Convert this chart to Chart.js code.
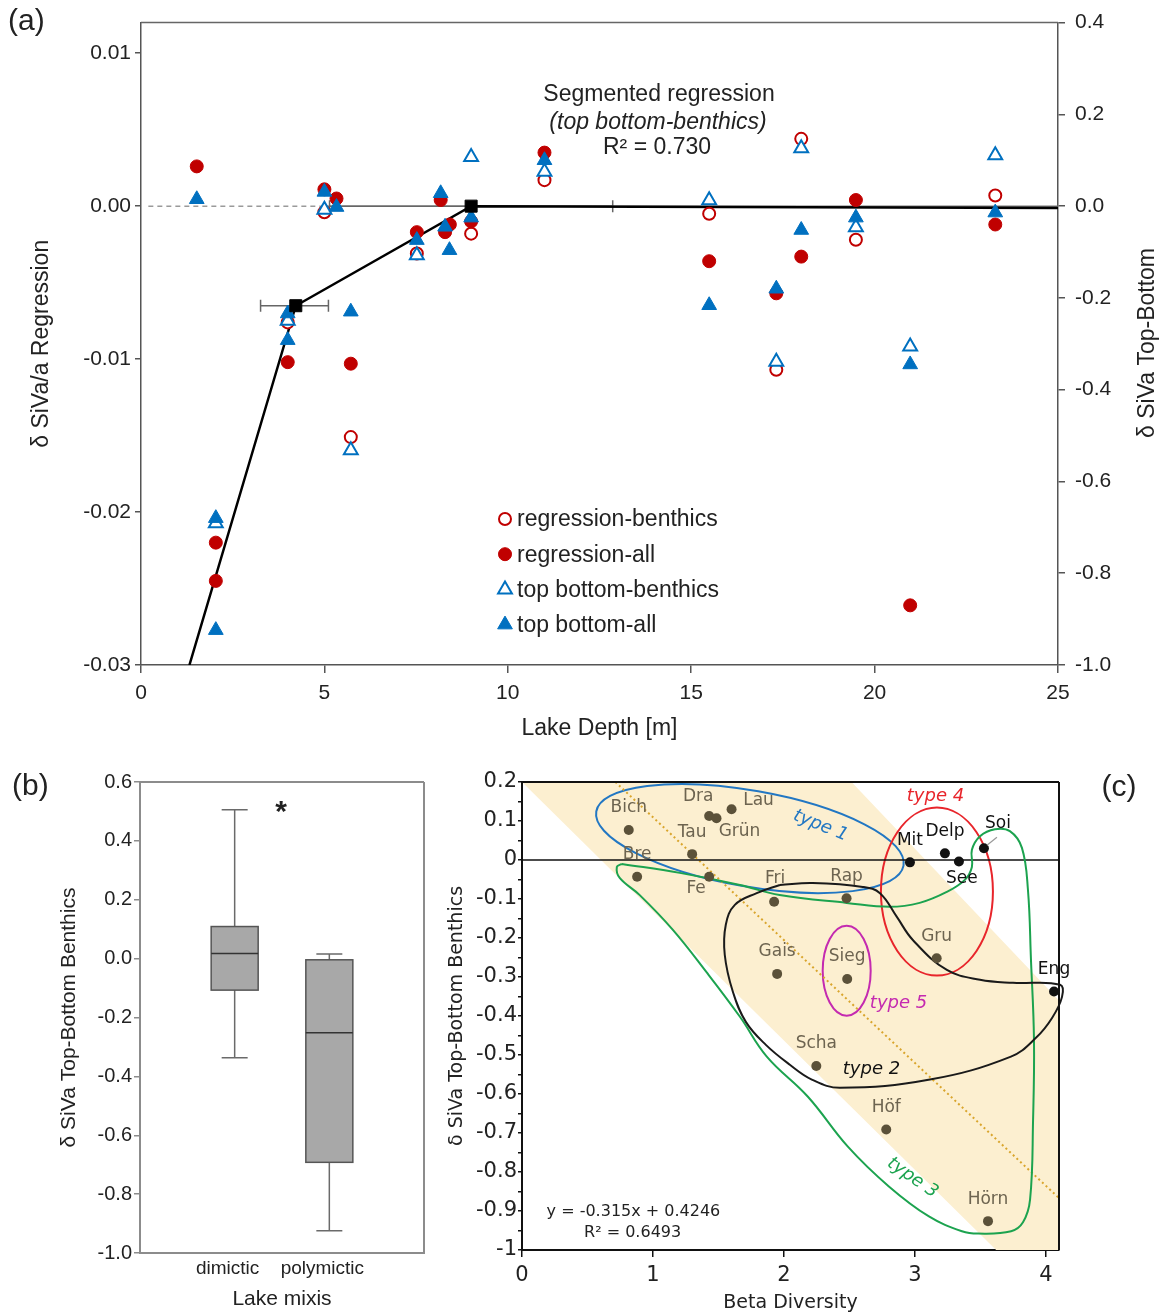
<!DOCTYPE html>
<html>
<head>
<meta charset="utf-8">
<title>Lake depth, mixis and beta diversity</title>
<script src="https://cdn.jsdelivr.net/npm/chart.js@4.4.1/dist/chart.umd.min.js"></script>
<style>
  html, body { margin: 0; padding: 0; background: #fff; }
  #figure { position: relative; width: 1164px; height: 1316px; overflow: hidden; }
  #figure canvas { position: absolute; }
</style>
</head>
<body>
<div id="figure">
  <canvas id="depthChart" width="1164" height="745" style="left:0;top:0;width:1164px;height:745px"></canvas>
  <canvas id="mixisChart" width="440" height="571" style="left:0;top:745px;width:440px;height:571px"></canvas>
  <canvas id="betaChart" width="724" height="571" style="left:440px;top:745px;width:724px;height:571px"></canvas>
</div>
<script>
// ---------- (a) delta SiVa against lake depth ----------
const regressionTicks = [-0.03, -0.02, -0.01, 0, 0.01];

const regBenthicsDepth = [4.0, 5.0, 5.72, 7.52, 9.0, 11.0, 15.49, 17.32, 18.0, 19.49, 23.29];
const regBenthicsValue = [-0.0076, -0.0004, -0.0151, -0.0031, -0.0018, 0.0017, -0.0005, -0.0107, 0.0044, -0.0022, 0.0007];

const regAllDepth = [1.52, 2.04, 2.04, 4.0, 5.0, 5.33, 5.72, 7.52, 8.17, 8.29, 8.42, 9.0, 11.0, 15.49, 17.32, 18.0, 19.49, 20.97, 23.29];
const regAllValue = [0.0026, -0.0220, -0.0245, -0.0102, 0.0011, 0.0005, -0.0103, -0.0017, 0.0004, -0.0017, -0.0012, -0.0010, 0.0035, -0.0036, -0.0057, -0.0033, 0.0004, -0.0261, -0.0012];

const tbBenthicsDepth = [2.04, 4.0, 5.0, 5.72, 7.52, 9.0, 11.0, 15.49, 17.32, 18.0, 19.49, 20.97, 23.29];
const tbBenthicsValue = [-0.691, -0.25, -0.008, -0.532, -0.107, 0.107, 0.075, 0.013, -0.339, 0.126, -0.046, -0.306, 0.111];

const tbAllDepth = [1.52, 2.04, 2.04, 4.0, 4.0, 5.0, 5.33, 5.72, 7.52, 8.17, 8.29, 8.41, 9.0, 11.0, 15.49, 17.32, 18.0, 19.49, 20.97, 23.29];
const tbAllValue = [0.015, -0.680, -0.924, -0.234, -0.292, 0.031, -0.002, -0.230, -0.074, 0.028, -0.045, -0.096, -0.025, 0.100, -0.216, -0.180, -0.052, -0.025, -0.345, -0.014];

// segmented regression on top bottom-benthics
const segDepth = [1.32, 4.22, 9.0, 25];
const segValue = [-1.0, -0.217, 0, -0.004];
const breakDepth = [4.22, 9.0];
const breakValue = [-0.217, 0];
const breakLow = [3.26, 5.14];
const breakHigh = [5.11, 12.86];

// ---------- (b) lake mixis ----------
const mixisTypes = ['dimictic', 'polymictic'];
const boxMin = [-0.337, -0.924];
const boxQ1 = [-0.107, -0.692];
const boxMedian = [0.017, -0.252];
const boxQ3 = [0.109, -0.004];
const boxMax = [0.506, 0.016];

// ---------- (c) beta diversity ----------
const lakeNames = ['Bich', 'Dra', 'Grün', 'Lau', 'Tau', 'Bre', 'Fe', 'Fri', 'Gais', 'Rap', 'Mit', 'Delp', 'See', 'Soi', 'Gru', 'Sieg', 'Eng', 'Scha', 'Höf', 'Hörn'];
const betaDiversity = [0.815, 1.429, 1.485, 1.600, 1.299, 0.879, 1.429, 1.925, 1.948, 2.478, 2.962, 3.229, 3.336, 3.527, 3.166, 2.483, 4.062, 2.247, 2.781, 3.558];
const topBottomBenthics = [0.077, 0.113, 0.107, 0.130, 0.015, -0.043, -0.043, -0.107, -0.292, -0.098, -0.006, 0.017, -0.004, 0.030, -0.252, -0.305, -0.337, -0.528, -0.691, -0.926];
const fitSlope = -0.315;
const fitIntercept = 0.4246;
const betaTicks = [0, 1, 2, 3, 4];
const benthicTicks = [-1, -0.95, -0.9, -0.85, -0.8, -0.75, -0.7, -0.65, -0.6, -0.55, -0.5, -0.45, -0.4,
  -0.35, -0.3, -0.25, -0.2, -0.15, -0.1, -0.05, 0, 0.05, 0.1, 0.15, 0.2];

// prediction band
const bandX = [0, 2.516, 4.1, 4.1, 3.62];
const bandY = [0.2, 0.2, -0.36, -1, -1];

// outlines of lake types 2 and 3
const type2X = [1.969, 1.792, 1.625, 1.556, 1.548, 1.610, 1.709, 1.862, 2.045, 2.213, 2.427, 3.115, 3.733, 3.924, 4.047, 4.123, 4.108, 3.749, 3.497, 3.244, 2.984, 2.862, 2.733, 2.602, 2.220, 1.969];
const type2Y = [-0.064, -0.085, -0.115, -0.166, -0.243, -0.338, -0.415, -0.474, -0.525, -0.563, -0.584, -0.563, -0.504, -0.456, -0.405, -0.351, -0.320, -0.315, -0.307, -0.282, -0.205, -0.146, -0.085, -0.069, -0.059, -0.064];
const type3X = [0.762, 1.205, 1.664, 1.967, 2.479, 2.807, 3.036, 3.243, 3.381, 3.435, 3.435, 3.497, 3.611, 3.725, 3.817, 3.863, 3.886, 3.909, 3.902, 3.879, 3.825, 3.734, 3.482, 3.359, 3.107, 2.801, 2.488, 2.183, 1.869, 1.664, 1.412, 1.152, 0.899, 0.746, 0.724, 0.762];
const type3Y = [-0.010, -0.033, -0.064, -0.090, -0.110, -0.120, -0.110, -0.082, -0.051, -0.018, 0.026, 0.061, 0.079, 0.074, 0.031, -0.077, -0.256, -0.461, -0.666, -0.871, -0.929, -0.952, -0.958, -0.952, -0.914, -0.837, -0.735, -0.607, -0.504, -0.402, -0.289, -0.179, -0.090, -0.046, -0.018, -0.010];

// ---------- styling ----------
const FONT = '"Liberation Sans", Arial, sans-serif';
const CFONT = '"DejaVu Sans", sans-serif';
const RED = '#c00000';
const BLUE = '#0070c0';
const INK = '#222';

const darkLakes = ['Mit', 'Delp', 'See', 'Soi', 'Eng'];
const labelShift = {
  Dra: [-11, -19], 'Grün': [23, 13], Lau: [27, -9], Fe: [-13, 12], See: [3, 17], Soi: [14, -25], Fri: [1, -23]
};
const typeRings = [
  { cx: 1.740, cy: 0.055, rx: 156, ry: 48, rot: 10, color: '#2277c3' },
  { cx: 3.168, cy: -0.081, rx: 56, ry: 84, rot: 0, color: '#e8252b' },
  { cx: 2.479, cy: -0.284, rx: 24, ry: 45, rot: 0, color: '#c42ab0' }
];

const pts = (xs, ys) => xs.map((x, i) => ({ x, y: ys[i] }));
const fmt = (v, d) => (Math.abs(v) < 1e-9 ? 0 : v).toFixed(d);

function drawMarker(ctx, style, x, y, r) {
  ctx.beginPath();
  if (style === 'triangle') {
    for (let k = 0; k < 3; k++) {
      const a = k * 2 * Math.PI / 3;
      const px = x + Math.sin(a) * r, py = y - Math.cos(a) * r;
      k ? ctx.lineTo(px, py) : ctx.moveTo(px, py);
    }
    ctx.closePath();
  } else {
    ctx.arc(x, y, r, 0, Math.PI * 2);
  }
  ctx.fill();
  ctx.stroke();
}

// free text, in pixels or in data units
function notes(items) {
  return {
    id: 'notes',
    afterDraw(chart) {
      const ctx = chart.ctx;
      items.forEach(n => {
        let x = n.x, y = n.y;
        if (n.data) {
          x = chart.scales.x.getPixelForValue(n.x);
          y = chart.scales.y.getPixelForValue(n.y);
        }
        ctx.save();
        ctx.translate(x, y);
        if (n.rotate) ctx.rotate(n.rotate * Math.PI / 180);
        ctx.font = n.font;
        ctx.fillStyle = n.color || INK;
        ctx.textAlign = n.align || 'center';
        ctx.textBaseline = 'middle';
        ctx.fillText(n.text, 0, 0);
        ctx.restore();
      });
    }
  };
}

function frame(color, width, sides) {
  return {
    id: 'frame',
    afterDatasetsDraw(chart) {
      const { ctx, chartArea: a } = chart;
      ctx.save();
      ctx.strokeStyle = color;
      ctx.lineWidth = width;
      ctx.beginPath();
      if (sides.includes('top')) { ctx.moveTo(a.left, a.top); ctx.lineTo(a.right, a.top); }
      if (sides.includes('right')) { ctx.moveTo(a.right, a.top); ctx.lineTo(a.right, a.bottom); }
      ctx.stroke();
      ctx.restore();
    }
  };
}

const quiet = { legend: { display: false }, tooltip: { enabled: false } };

// ---------- chart (a) ----------
const depthLegend = {
  id: 'depthLegend',
  afterDraw(chart) {
    const ctx = chart.ctx;
    chart.data.datasets.slice(0, 4).forEach((ds, i) => {
      const y = 519 + i * 35.2;
      ctx.save();
      ctx.fillStyle = ds.pointBackgroundColor;
      ctx.strokeStyle = ds.pointBorderColor;
      ctx.lineWidth = ds.pointBorderWidth;
      drawMarker(ctx, ds.pointStyle, 505, y, ds.pointRadius);
      ctx.font = `23px ${FONT}`;
      ctx.fillStyle = INK;
      ctx.textAlign = 'left';
      ctx.textBaseline = 'middle';
      ctx.fillText(ds.label, 517, y + 1);
      ctx.restore();
    });
  }
};

const errorBarPts = breakDepth.flatMap((d, i) => [
  { x: breakLow[i], y: breakValue[i] }, { x: breakHigh[i], y: breakValue[i] }, { x: breakHigh[i], y: null }
]);
const capPts = breakDepth.flatMap((d, i) => [
  { x: breakLow[i], y: breakValue[i] }, { x: breakHigh[i], y: breakValue[i] }
]);

const axisTick = { family: FONT, size: 21 };
const axisTitle = { family: FONT, size: 23 };

new Chart(document.getElementById('depthChart'), {
  type: 'scatter',
  data: {
    datasets: [
      { label: 'regression-benthics', data: pts(regBenthicsDepth, regBenthicsValue), yAxisID: 'y',
        pointStyle: 'circle', pointRadius: 6, pointBorderWidth: 2, pointBorderColor: RED, pointBackgroundColor: '#fff', order: 4 },
      { label: 'regression-all', data: pts(regAllDepth, regAllValue), yAxisID: 'y',
        pointStyle: 'circle', pointRadius: 6.5, pointBorderWidth: 1, pointBorderColor: RED, pointBackgroundColor: RED, order: 3 },
      { label: 'top bottom-benthics', data: pts(tbBenthicsDepth, tbBenthicsValue), yAxisID: 'y1',
        pointStyle: 'triangle', pointRadius: 8, pointBorderWidth: 2, pointBorderColor: BLUE, pointBackgroundColor: '#fff', order: 2 },
      { label: 'top bottom-all', data: pts(tbAllDepth, tbAllValue), yAxisID: 'y1',
        pointStyle: 'triangle', pointRadius: 8.5, pointBorderWidth: 1, pointBorderColor: BLUE, pointBackgroundColor: BLUE, order: 1 },
      // zero reference
      { data: [{ x: 0.2, y: 0 }, { x: 4.9, y: 0 }], yAxisID: 'y1', showLine: true, pointRadius: 0,
        borderColor: '#9a9a9a', borderWidth: 1.5, borderDash: [5, 4], order: 12 },
      { data: [{ x: 4.9, y: 0 }, { x: 25, y: 0 }], yAxisID: 'y1', showLine: true, pointRadius: 0,
        borderColor: '#777', borderWidth: 1.5, order: 11 },
      // segmented fit
      { data: pts(segDepth, segValue), yAxisID: 'y1', showLine: true, pointRadius: 0,
        borderColor: '#000', borderWidth: 2.5, order: 6 },
      { data: errorBarPts, yAxisID: 'y1', showLine: true, spanGaps: false, pointRadius: 0,
        borderColor: '#666', borderWidth: 1.5, order: 7 },
      { data: capPts, yAxisID: 'y1', pointStyle: 'line', pointRotation: 90, pointRadius: 6,
        pointBorderWidth: 1.5, pointBorderColor: '#666', order: 7 },
      { data: pts(breakDepth, breakValue), yAxisID: 'y1', pointStyle: 'rect', pointRadius: 8.5,
        pointBackgroundColor: '#000', pointBorderColor: '#000', order: 0 }
    ]
  },
  options: {
    responsive: false,
    animation: false,
    events: [],
    layout: { padding: { top: 22, right: 0, bottom: 0, left: 0 } },
    plugins: quiet,
    scales: {
      x: {
        type: 'linear', min: 0, max: 25,
        ticks: { stepSize: 5, font: axisTick, color: INK, padding: 8 },
        grid: { drawOnChartArea: false, tickLength: 8, color: '#555', lineWidth: 1.5 },
        border: { color: '#555', width: 1.5 },
        title: { display: true, text: 'Lake Depth [m]', font: axisTitle, color: INK, padding: { top: 0, bottom: 3 } },
        afterFit: s => { s.height = 80; }
      },
      y: {
        position: 'left', min: -0.03, max: 0.012,
        afterBuildTicks: s => { s.ticks = regressionTicks.map(value => ({ value })); },
        ticks: { callback: v => fmt(v, 2), font: axisTick, color: INK, padding: 4 },
        grid: { drawOnChartArea: false, tickLength: 6, color: '#555', lineWidth: 1.5 },
        border: { color: '#555', width: 1.5 },
        title: { display: true, text: 'δ SiVa/a Regression', font: axisTitle, color: INK, padding: { top: 28, bottom: 0 } },
        afterFit: s => { s.width = 141; }
      },
      y1: {
        position: 'right', min: -1, max: 0.4,
        ticks: { stepSize: 0.2, callback: v => fmt(v, 1), font: axisTick, color: INK, padding: 10 },
        grid: { drawOnChartArea: false, tickLength: 7, color: '#555', lineWidth: 1.5 },
        border: { color: '#555', width: 1.5 },
        afterFit: s => { s.width = 106; }
      }
    }
  },
  plugins: [
    frame('#666', 1.5, ['top']),
    depthLegend,
    notes([
      { text: '(a)', x: 8, y: 22, font: `30px ${FONT}`, align: 'left' },
      { text: 'Segmented regression', x: 659, y: 95, font: `23px ${FONT}` },
      { text: '(top bottom-benthics)', x: 658, y: 123, font: `italic 23px ${FONT}` },
      { text: 'R² = 0.730', x: 657, y: 148, font: `23px ${FONT}` },
      { text: 'δ SiVa Top-Bottom', x: 1148, y: 343, font: `23px ${FONT}`, rotate: -90 }
    ])
  ]
});

// ---------- chart (b) ----------
const boxPlot = {
  id: 'boxPlot',
  afterDatasetsDraw(chart) {
    const { ctx, scales: { x, y } } = chart;
    const half = 23.5, cap = 13;
    ctx.save();
    ctx.lineWidth = 1.5;
    mixisTypes.forEach((name, i) => {
      const cx = x.getPixelForValue(i + 1);
      const lo = y.getPixelForValue(boxMin[i]);
      const q1 = y.getPixelForValue(boxQ1[i]);
      const md = y.getPixelForValue(boxMedian[i]);
      const q3 = y.getPixelForValue(boxQ3[i]);
      const hi = y.getPixelForValue(boxMax[i]);
      ctx.strokeStyle = '#6a6a6a';
      ctx.beginPath();
      ctx.moveTo(cx, hi); ctx.lineTo(cx, q3);
      ctx.moveTo(cx, q1); ctx.lineTo(cx, lo);
      ctx.moveTo(cx - cap, hi); ctx.lineTo(cx + cap, hi);
      ctx.moveTo(cx - cap, lo); ctx.lineTo(cx + cap, lo);
      ctx.stroke();
      ctx.fillStyle = '#a8a8a8';
      ctx.fillRect(cx - half, q3, half * 2, q1 - q3);
      ctx.strokeStyle = '#555';
      ctx.strokeRect(cx - half, q3, half * 2, q1 - q3);
      ctx.strokeStyle = '#333';
      ctx.beginPath();
      ctx.moveTo(cx - half, md); ctx.lineTo(cx + half, md);
      ctx.stroke();
    });
    ctx.restore();
  }
};

new Chart(document.getElementById('mixisChart'), {
  type: 'scatter',
  data: { datasets: [] },
  options: {
    responsive: false,
    animation: false,
    events: [],
    layout: { padding: { top: 37, right: 16, bottom: 0, left: 0 } },
    plugins: quiet,
    scales: {
      x: {
        type: 'linear', min: 0, max: 3,
        afterBuildTicks: s => { s.ticks = mixisTypes.map((t, i) => ({ value: i + 1 })); },
        ticks: { callback: v => mixisTypes[v - 1], font: { family: FONT, size: 19 }, color: INK, padding: 4, labelOffset: -7 },
        grid: { display: false, drawTicks: false },
        border: { color: '#8c8c8c', width: 2 },
        title: { display: true, text: 'Lake mixis', font: { family: FONT, size: 21 }, color: INK, padding: { top: 0, bottom: 4 } },
        afterFit: s => { s.height = 63; }
      },
      y: {
        min: -1, max: 0.6,
        ticks: { stepSize: 0.2, callback: v => fmt(v, 1), font: { family: FONT, size: 20 }, color: INK, padding: 2 },
        grid: { drawOnChartArea: false, tickLength: 6, color: '#8c8c8c', lineWidth: 1.5 },
        border: { color: '#8c8c8c', width: 2 },
        title: { display: true, text: 'δ SiVa Top-Bottom Benthics', font: { family: FONT, size: 21 }, color: INK, padding: { top: 57, bottom: 0 } },
        afterFit: s => { s.width = 140; }
      }
    }
  },
  plugins: [
    boxPlot,
    frame('#8c8c8c', 2, ['top', 'right']),
    notes([
      { text: '(b)', x: 12, y: 42, font: `30px ${FONT}`, align: 'left' },
      { text: '*', x: 281, y: 68, font: `bold 30px ${FONT}` }
    ])
  ]
});

// ---------- chart (c) ----------
const betaBackdrop = {
  id: 'betaBackdrop',
  beforeDatasetsDraw(chart) {
    const { ctx, scales: { x, y } } = chart;
    ctx.save();
    ctx.beginPath();
    bandX.forEach((bx, i) => {
      const px = x.getPixelForValue(bx), py = y.getPixelForValue(bandY[i]);
      i ? ctx.lineTo(px, py) : ctx.moveTo(px, py);
    });
    ctx.closePath();
    ctx.fillStyle = '#fcefd0';
    ctx.fill();
    ctx.lineWidth = 2;
    typeRings.forEach(r => {
      ctx.beginPath();
      ctx.ellipse(x.getPixelForValue(r.cx), y.getPixelForValue(r.cy), r.rx, r.ry, r.rot * Math.PI / 180, 0, Math.PI * 2);
      ctx.strokeStyle = r.color;
      ctx.stroke();
    });
    ctx.restore();
  }
};

const lakeLabels = {
  id: 'lakeLabels',
  afterDatasetsDraw(chart) {
    const { ctx, scales: { x, y } } = chart;
    ctx.save();
    ctx.font = `17px ${CFONT}`;
    ctx.textAlign = 'center';
    ctx.textBaseline = 'middle';
    lakeNames.forEach((name, i) => {
      const px = x.getPixelForValue(betaDiversity[i]);
      const py = y.getPixelForValue(topBottomBenthics[i]);
      const [dx, dy] = labelShift[name] || [0, -22];
      if (name === 'Soi') {
        ctx.strokeStyle = '#999';
        ctx.lineWidth = 1.2;
        ctx.beginPath();
        ctx.moveTo(px + 3, py - 3);
        ctx.lineTo(px + 13, py - 11);
        ctx.stroke();
      }
      ctx.fillStyle = darkLakes.includes(name) ? '#111' : '#6d6450';
      ctx.fillText(name, px + dx, py + dy);
    });
    ctx.restore();
  }
};

const fitStart = (0.2 - fitIntercept) / fitSlope;
const typeFont = `italic 18px ${CFONT}`;

new Chart(document.getElementById('betaChart'), {
  type: 'scatter',
  data: {
    datasets: [
      { data: [{ x: fitStart, y: 0.2 }, { x: 4.1, y: fitSlope * 4.1 + fitIntercept }], showLine: true, pointRadius: 0,
        borderColor: '#d9a52c', borderWidth: 2, borderDash: [2, 3], order: 9 },
      { data: [{ x: 0, y: 0 }, { x: 4.1, y: 0 }], showLine: true, pointRadius: 0,
        borderColor: '#111', borderWidth: 1.5, order: 8 },
      { data: pts(type2X, type2Y), showLine: true, tension: 0.4, pointRadius: 0, clip: 8,
        borderColor: '#1a1a1a', borderWidth: 2, order: 5 },
      { data: pts(type3X, type3Y), showLine: true, tension: 0.4, pointRadius: 0, clip: 8,
        borderColor: '#1ca34f', borderWidth: 2, order: 5 },
      { data: pts(betaDiversity, topBottomBenthics), pointRadius: 5, pointBorderWidth: 0,
        pointBackgroundColor: lakeNames.map(n => darkLakes.includes(n) ? '#111' : '#5b5139'), order: 0 }
    ]
  },
  options: {
    responsive: false,
    animation: false,
    events: [],
    layout: { padding: { top: 37, right: 105, bottom: 0, left: 0 } },
    plugins: quiet,
    scales: {
      x: {
        type: 'linear', min: 0, max: 4.1,
        afterBuildTicks: s => { s.ticks = betaTicks.map(value => ({ value })); },
        ticks: { callback: v => String(v), font: { family: CFONT, size: 21 }, color: INK, padding: 6 },
        grid: { drawOnChartArea: false, tickLength: 7, color: '#111', lineWidth: 1.5 },
        border: { color: '#111', width: 2 },
        title: { display: true, text: 'Beta Diversity', font: { family: CFONT, size: 19 }, color: INK, padding: { top: 0, bottom: 2 } },
        afterFit: s => { s.height = 66; }
      },
      y: {
        min: -1, max: 0.2,
        afterBuildTicks: s => { s.ticks = benthicTicks.map(value => ({ value })); },
        ticks: {
          autoSkip: false,
          callback: v => (Math.round(v * 20) % 2 ? '' : String(Math.round(v * 10) / 10)),
          font: { family: CFONT, size: 21 }, color: INK, padding: 1
        },
        grid: { drawOnChartArea: false, tickLength: 4, color: '#111', lineWidth: 1.5 },
        border: { color: '#111', width: 2 },
        title: { display: true, text: 'δ SiVa Top-Bottom Benthics', font: { family: CFONT, size: 19 }, color: INK, padding: { top: 6, bottom: 0 } },
        afterFit: s => { s.width = 82; }
      }
    }
  },
  plugins: [
    betaBackdrop,
    lakeLabels,
    frame('#111', 2, ['top', 'right']),
    notes([
      { text: '(c)', x: 679, y: 43, font: `30px ${FONT}` },
      { text: 'type 1', x: 2.280, y: 0.088, data: true, font: typeFont, color: '#2277c3', rotate: 22 },
      { text: 'type 4', x: 3.157, y: 0.162, data: true, font: typeFont, color: '#e8252b' },
      { text: 'type 5', x: 2.875, y: -0.367, data: true, font: typeFont, color: '#c42ab0' },
      { text: 'type 2', x: 2.668, y: -0.536, data: true, font: typeFont, color: '#111' },
      { text: 'type 3', x: 2.981, y: -0.815, data: true, font: typeFont, color: '#1ca34f', rotate: 35 },
      { text: 'y = -0.315x + 0.4246', x: 0.188, y: -0.901, data: true, font: `16px ${CFONT}`, align: 'left' },
      { text: 'R² = 0.6493', x: 0.474, y: -0.955, data: true, font: `16px ${CFONT}`, align: 'left' }
    ])
  ]
});
</script>
</body>
</html>
